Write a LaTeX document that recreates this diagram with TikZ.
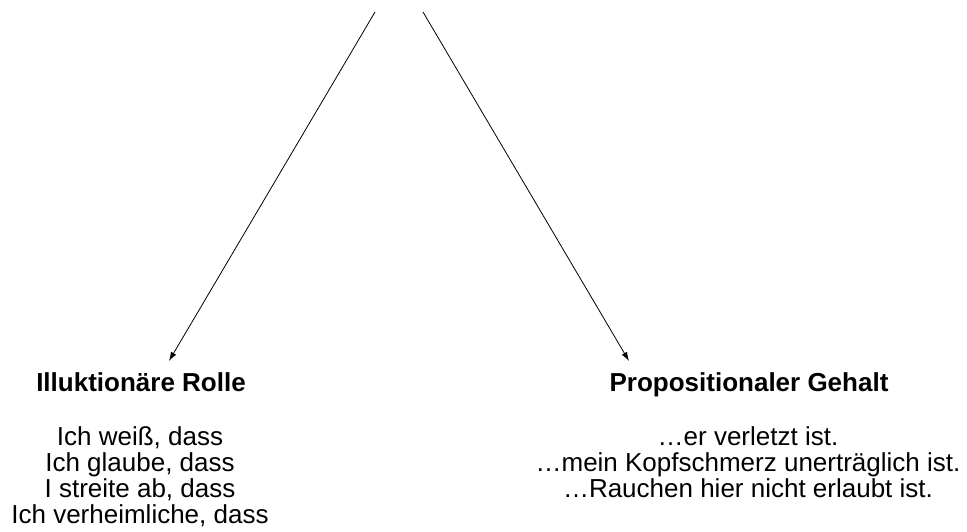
\documentclass[tikz,border=0pt]{standalone}
\usepackage{fontspec}
\setmainfont{Liberation Sans}
\usetikzlibrary{arrows.meta}
\begin{document}
\begin{tikzpicture}[x=1pt,y=-1pt]

      \useasboundingbox (0,0) rectangle (967,532);

      \coordinate (tl) at (375,12);
      \coordinate (tr) at (423,12);
      \coordinate (el) at (169,361);
      \coordinate (er) at (629,361);

      \begin{scope}[every node/.style={inner sep=0pt, anchor=base, align=center, font={\fontsize{26}{26}\selectfont}}]
        \node (rolle)  at (141,391) {\bfseries Illuktionäre Rolle};
        \node (gehalt) at (749,391) {\bfseries Propositionaler Gehalt};
        \node (r1) at (140,445) {Ich weiß, dass};
        \node (r2) at (140,471) {Ich glaube, dass};
        \node (r3) at (140,497) {I streite ab, dass};
        \node (r4) at (140,523) {Ich verheimliche, dass};
        \node (g1) at (748,445) {…er verletzt ist.};
        \node (g2) at (748,471) {…mein Kopfschmerz unerträglich ist.};
        \node (g3) at (748,497) {…Rauchen hier nicht erlaubt ist.};
      \end{scope}

      \begin{scope}[every path/.style={line width=0.8pt, -{Latex[length=9pt,width=6pt]}}]
        \path[draw] (tl) -- (el);
        \path[draw] (tr) -- (er);
      \end{scope}

    \end{tikzpicture}
\end{document}
